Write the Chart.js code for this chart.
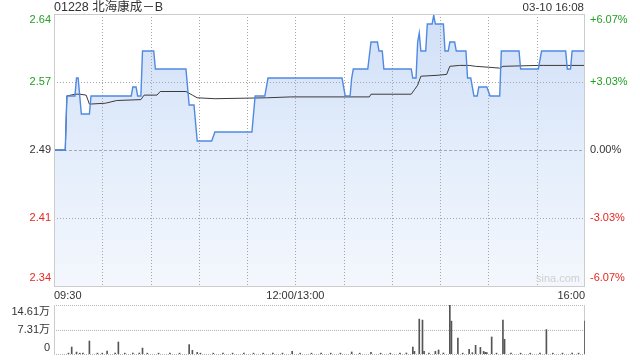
<!DOCTYPE html>
<html>
<head>
<meta charset="utf-8">
<script src="https://cdn.jsdelivr.net/npm/chart.js@4.4.1/dist/chart.umd.min.js"></script>
<style>
  html, body { margin: 0; padding: 0; background: #fff; }
  #wrap { position: relative; width: 640px; height: 360px; overflow: hidden;
          font-family: Arial, "Liberation Sans", "Noto Sans CJK SC", sans-serif; }
  #priceChart { position: absolute; left: 0; top: 0; }
  #volChart { position: absolute; left: 0; top: 300px; }
  .txt { position: absolute; white-space: nowrap; color: #333; }
</style>
</head>
<body>
<div id="wrap">
  <canvas id="priceChart" width="640" height="300"></canvas>
  <canvas id="volChart" width="640" height="60"></canvas>
  <div class="txt" style="left:54px;top:0;font-size:12.5px;line-height:14px;">01228 北海康成－B</div>
  <div class="txt" style="right:56px;top:0;font-size:11.5px;line-height:14px;">03-10 16:08</div>
  <div class="txt" style="left:536px;top:272px;font-size:11px;color:#d0d0d0;">sina.com</div>
</div>
<script>
// ---- data (minute of trading session: 0 = 09:30, 150 = 12:00/13:00, 330 = 16:00) ----
const prevClose = 2.49;
const pctRange = 0.0607;

const priceMinutes = [0, 7, 8, 13, 14, 15, 17, 22, 23, 48, 49, 51, 52, 54, 55, 62, 63, 82, 84, 87,
  89, 98, 100, 123, 125, 131, 133, 179, 181, 184, 185, 186, 195, 197, 201, 202, 204, 205, 222, 223,
  225, 226, 227, 228, 231, 232, 235, 236, 237, 242, 243, 245, 246, 249, 250, 256, 257, 259, 261, 263,
  264, 269, 271, 277, 278, 289, 290, 301, 303, 318, 319, 321, 322, 330];
const priceValues = [2.49, 2.49, 2.55, 2.55, 2.57, 2.57, 2.53, 2.53, 2.55, 2.55, 2.56, 2.56, 2.55, 2.55, 2.60, 2.60, 2.58, 2.58, 2.54, 2.54,
  2.50, 2.50, 2.51, 2.51, 2.55, 2.55, 2.57, 2.57, 2.55, 2.55, 2.57, 2.58, 2.58, 2.61, 2.61, 2.60, 2.60, 2.58, 2.58, 2.57,
  2.57, 2.61, 2.62, 2.60, 2.60, 2.63, 2.63, 2.64, 2.63, 2.63, 2.60, 2.60, 2.61, 2.61, 2.60, 2.60, 2.57, 2.57, 2.55, 2.55,
  2.56, 2.56, 2.55, 2.55, 2.60, 2.60, 2.58, 2.58, 2.60, 2.60, 2.58, 2.58, 2.60, 2.60];

const avgMinutes = [0, 7, 8, 13, 16, 20, 22, 32, 39, 54, 56, 64, 66, 82, 86, 89, 100, 132, 147, 196,
  197, 222, 224, 226, 228, 238, 244, 246, 252, 258, 262, 270, 277, 279, 301, 304, 330];
const avgValues = [2.49, 2.49, 2.55, 2.552, 2.552, 2.551, 2.541, 2.542, 2.545, 2.546, 2.551, 2.551, 2.555, 2.555, 2.551, 2.548, 2.547, 2.548, 2.549, 2.549,
  2.552, 2.552, 2.557, 2.562, 2.572, 2.573, 2.574, 2.583, 2.584, 2.584, 2.583, 2.582, 2.581, 2.583, 2.584, 2.584, 2.584];

const volMinutes = [9, 11, 14, 16, 18, 22, 27, 30, 33, 38, 40, 44, 49, 53, 55, 58, 65, 72, 78, 84,
  86, 89, 91, 99, 105, 111, 118, 124, 130, 136, 142, 148, 153, 160, 166, 172, 178, 185, 190, 197,
  203, 209, 215, 219, 223, 224, 227, 229, 230, 233, 237, 239, 242, 246, 247, 251, 254, 258, 260, 262,
  265, 267, 268, 269, 272, 275, 279, 280, 284, 290, 296, 302, 306, 310, 316, 322, 326, 330];
const volValues = [2500, 20700, 5700, 2500, 2500, 38800, 2500, 2500, 8700, 2500, 35800, 2500, 2500, 3000, 17700, 2500, 2500, 2500, 2500, 28000,
  10800, 4800, 2500, 2500, 2500, 2500, 2500, 2500, 2500, 2500, 2500, 7800, 2500, 2500, 2500, 2500, 2500, 6000, 2500, 4800,
  2500, 2500, 2500, 3000, 20700, 7800, 104000, 101000, 7800, 2500, 7800, 12000, 3000, 146100, 98000, 47800, 2500, 13800, 4000, 25900,
  19800, 7800, 5000, 4000, 50800, 2500, 101000, 43900, 2500, 2500, 2500, 2500, 73000, 2500, 2500, 2500, 2500, 98000];

const timeLabels = ['09:30', '10:00', '10:30', '11:00', '11:30', '12:00/13:00', '13:30', '14:00', '14:30', '15:00', '15:30', '16:00'];
const shownTimeLabels = ['09:30', '12:00/13:00', '16:00'];
const priceTickLabels = ['2.64', '2.57', '2.49', '2.41', '2.34'];
const pctTickLabels = ['+6.07%', '+3.03%', '0.00%', '-3.03%', '-6.07%'];
const volMax = 146100;
const volTickLabels = ['14.61万', '7.31万', '0'];

// ---- helpers ----
const FONT = '11px Arial, "Liberation Sans", "Noto Sans CJK SC", sans-serif';
const GREEN = '#22a022', RED = '#e8261f', DARK = '#333333';
const toPoints = (xs, ys) => xs.map((x, i) => ({ x: x, y: ys[i] }));
const yMin = prevClose * (1 - pctRange);
const yMax = prevClose * (1 + pctRange);

function evenTicks(scale, n) {
  const step = (scale.max - scale.min) / (n - 1);
  scale.ticks = [];
  for (let i = 0; i < n; i++) scale.ticks.push({ value: scale.max - i * step });
}

function hLine(ctx, x1, x2, y, color, dash) {
  ctx.save();
  ctx.strokeStyle = color; ctx.lineWidth = 1; ctx.setLineDash(dash);
  ctx.beginPath(); ctx.moveTo(x1, Math.round(y) + 0.5); ctx.lineTo(x2, Math.round(y) + 0.5); ctx.stroke();
  ctx.restore();
}
function vLine(ctx, x, y1, y2, color, dash) {
  ctx.save();
  ctx.strokeStyle = color; ctx.lineWidth = 1; ctx.setLineDash(dash);
  ctx.beginPath(); ctx.moveTo(Math.round(x) + 0.5, y1); ctx.lineTo(Math.round(x) + 0.5, y2); ctx.stroke();
  ctx.restore();
}

// ---- price chart decorations ----
const priceDecor = {
  id: 'priceDecor',
  afterDatasetDraw(chart, args) {
    if (args.index !== 0) return;   // grid goes on top of the fill, under the lines
    const ctx = chart.ctx, a = chart.chartArea;
    const xs = chart.scales.x, ys = chart.scales.y;
    xs.ticks.forEach((t, i) => {
      if (i === 0 || i === xs.ticks.length - 1) return;
      vLine(ctx, xs.getPixelForValue(t.value), a.top, a.bottom, '#a6a6a6', [1, 2]);
    });
    ys.ticks.forEach((t, i) => {
      if (i === 0 || i === ys.ticks.length - 1) return;
      const y = ys.getPixelForValue(t.value);
      if (Math.abs(t.value - prevClose) < 1e-6) hLine(ctx, a.left, a.right, y, '#a8a8a8', [3, 2]);
      else hLine(ctx, a.left, a.right, y, '#a6a6a6', [1, 2]);
    });
  },
  afterDraw(chart) {
    const ctx = chart.ctx, a = chart.chartArea, ys = chart.scales.y;
    ctx.save();
    ctx.strokeStyle = '#cccccc'; ctx.lineWidth = 1;
    ctx.strokeRect(Math.round(a.left) + 0.5, Math.round(a.top) + 0.5, Math.round(a.right - a.left) - 1, Math.round(a.bottom - a.top));
    ctx.font = FONT; ctx.textBaseline = 'middle';
    ys.ticks.forEach((t, i) => {
      let y = ys.getPixelForValue(t.value);
      y = Math.max(a.top + 6, Math.min(a.bottom - 8, y));
      const d = t.value - prevClose;
      ctx.fillStyle = Math.abs(d) < 1e-6 ? DARK : (d > 0 ? GREEN : RED);
      ctx.textAlign = 'right';
      ctx.fillText(priceTickLabels[i], a.left - 3, y);
      ctx.textAlign = 'left';
      ctx.fillText(pctTickLabels[i], a.right + 5, y);
    });
    ctx.restore();
  }
};

const priceCtx = document.getElementById('priceChart');
new Chart(priceCtx, {
  type: 'line',
  data: {
    datasets: [
      {
        data: toPoints(priceMinutes, priceValues),
        borderWidth: 0,
        pointRadius: 0,
        fill: 'start',
        order: 2,
        backgroundColor: (c) => {
          const a = c.chart.chartArea;
          if (!a) return 'rgba(214,228,248,0.8)';
          const g = c.chart.ctx.createLinearGradient(0, a.top, 0, a.bottom);
          g.addColorStop(0, 'rgba(206,222,247,0.95)');
          g.addColorStop(0.5, 'rgba(226,236,251,0.95)');
          g.addColorStop(1, 'rgba(243,247,253,0.95)');
          return g;
        }
      },
      {
        data: toPoints(avgMinutes, avgValues),
        borderColor: '#3a3a3a',
        borderWidth: 1,
        pointRadius: 0,
        fill: false,
        order: 1
      },
      {
        data: toPoints(priceMinutes, priceValues),
        borderColor: '#5089e2',
        borderWidth: 1.4,
        pointRadius: 0,
        fill: false,
        order: 0
      }
    ]
  },
  options: {
    responsive: false,
    animation: false,
    events: [],
    layout: { padding: { top: 14, left: 0, right: 0, bottom: 0 } },
    plugins: { legend: { display: false }, tooltip: { enabled: false } },
    scales: {
      x: {
        type: 'linear', min: 0, max: 330,
        grid: { display: false, drawTicks: false },
        border: { display: false },
        afterBuildTicks: (s) => { s.ticks = timeLabels.map((_, i) => ({ value: i * 30 })); },
        afterFit: (s) => { s.height = 14; },
        ticks: {
          autoSkip: false, maxRotation: 0, align: 'inner', padding: 3,
          color: DARK, font: { family: 'Arial, "Liberation Sans", sans-serif', size: 11 },
          callback: (v, i) => shownTimeLabels.includes(timeLabels[i]) ? timeLabels[i] : ''
        }
      },
      y: {
        position: 'left', min: yMin, max: yMax,
        grid: { display: false, drawTicks: false },
        border: { display: false },
        ticks: { display: false },
        afterBuildTicks: (s) => evenTicks(s, priceTickLabels.length),
        afterFit: (s) => { s.width = 54; }
      },
      y2: {
        position: 'right', min: yMin, max: yMax, display: true,
        grid: { display: false, drawTicks: false },
        border: { display: false },
        ticks: { display: false },
        afterBuildTicks: (s) => evenTicks(s, pctTickLabels.length),
        afterFit: (s) => { s.width = 55; }
      }
    }
  },
  plugins: [priceDecor]
});

// ---- volume chart ----
const volDecor = {
  id: 'volDecor',
  beforeDatasetsDraw(chart) {
    const ctx = chart.ctx, a = chart.chartArea, ys = chart.scales.y;
    ys.ticks.forEach((t) => {
      hLine(ctx, a.left, a.right, ys.getPixelForValue(t.value), '#b4b4b4', [1, 1]);
    });
    vLine(ctx, a.left, a.top, a.bottom + 1, '#cccccc', []);
    vLine(ctx, a.right - 1, a.top, a.bottom + 1, '#cccccc', []);
  },
  afterDraw(chart) {
    const ctx = chart.ctx, a = chart.chartArea, ys = chart.scales.y;
    ctx.save();
    ctx.font = FONT; ctx.textBaseline = 'middle'; ctx.textAlign = 'right'; ctx.fillStyle = DARK;
    ys.ticks.forEach((t, i) => {
      let y = ys.getPixelForValue(t.value);
      y = Math.max(a.top + 7, Math.min(a.bottom - 6, y));
      ctx.fillText(volTickLabels[i], a.left - 4, y);
    });
    ctx.restore();
  }
};

new Chart(document.getElementById('volChart'), {
  type: 'bar',
  data: {
    datasets: [{
      data: toPoints(volMinutes, volValues),
      backgroundColor: '#555555',
      barThickness: 1,
      grouped: false
    }]
  },
  options: {
    responsive: false,
    animation: false,
    events: [],
    layout: { padding: { top: 5, bottom: 6, left: 0, right: 55 } },
    plugins: { legend: { display: false }, tooltip: { enabled: false } },
    scales: {
      x: { type: 'linear', min: 0, max: 330, display: false, offset: false },
      y: {
        min: 0, max: volMax,
        grid: { display: false, drawTicks: false },
        border: { display: false },
        ticks: { display: false },
        afterBuildTicks: (s) => evenTicks(s, volTickLabels.length),
        afterFit: (s) => { s.width = 54; }
      }
    }
  },
  plugins: [volDecor]
});
</script>
</body>
</html>
